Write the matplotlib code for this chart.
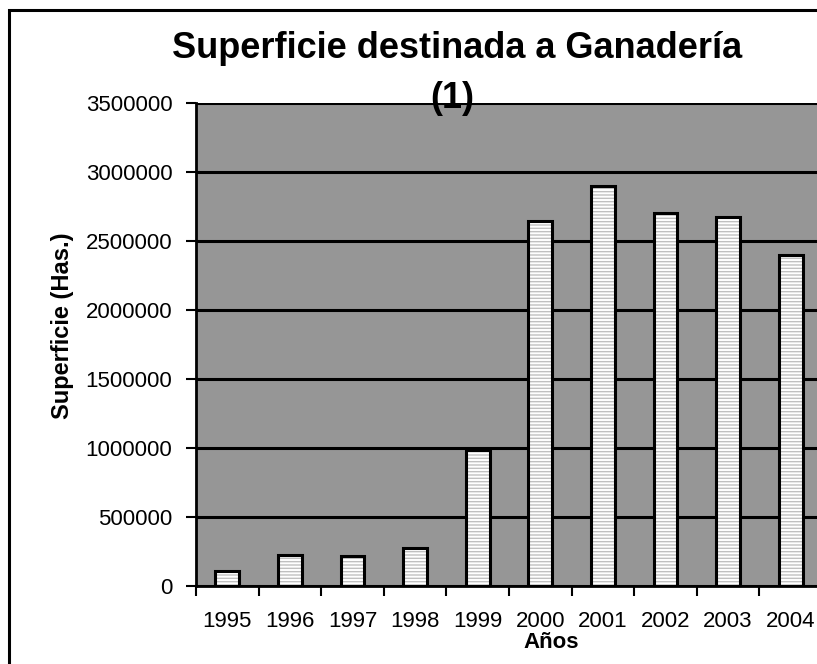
import matplotlib
matplotlib.use("Agg")
import matplotlib.pyplot as plt
from matplotlib import font_manager as fm
from matplotlib.patches import Rectangle
import numpy as np

years = ["1995", "1996", "1997", "1998", "1999", "2000", "2001", "2002", "2003", "2004"]
superficie = [109000, 223000, 216000, 278000, 988000, 2643000, 2902000, 2706000, 2677000, 2398000]
yticks = [0, 500000, 1000000, 1500000, 2000000, 2500000, 3000000, 3500000]

names = {f.name for f in fm.fontManager.ttflist}
fam = "Liberation Sans Narrow" if "Liberation Sans Narrow" in names else "Liberation Sans"
plt.rcParams['font.family'] = [fam, 'DejaVu Sans']
plt.rcParams['hatch.linewidth'] = 1.0

W, H = 817, 664
fig = plt.figure(figsize=(W/100, H/100), dpi=100)
fig.patch.set_facecolor('white')

# outer frame
fig.patches.append(Rectangle((9/W, -0.1), 1.2, (H - 10)/H + 0.1, transform=fig.transFigure,
                             fill=False, edgecolor='black', linewidth=2.2))

left, bottom, top = 196, 586, 103
ax = fig.add_axes([left/W, (H-bottom)/H, 626/W, (bottom-top)/H])
ax.set_facecolor('#969696')
x = np.arange(len(years))
ax.bar(x, superficie, width=0.38, color='white', edgecolor='#c0c0c0', hatch='-----', linewidth=0, zorder=3)
ax.bar(x, superficie, width=0.38, fill=False, edgecolor='black', linewidth=2.2, zorder=4)
ax.set_xlim(-0.5, len(years) - 0.5)
ax.set_ylim(0, 3500000)
ax.set_yticks(yticks)
ax.set_yticklabels([str(v) for v in yticks], fontsize=16)
ax.yaxis.grid(True, color='black', linewidth=2.2, zorder=1)
ax.set_axisbelow(True)
ax.set_xticks(np.arange(len(years) + 1) - 0.5)
ax.set_xticklabels([])
ax.set_xticks(x, minor=True)
ax.set_xticklabels(years, minor=True, fontsize=16)
ax.tick_params(axis='x', which='minor', length=0, pad=18)
ax.tick_params(axis='x', which='major', length=7, width=1.5, direction='out')
ax.tick_params(axis='y', length=7, width=1.5, direction='out', pad=10)
for s in ['top', 'right']:
    ax.spines[s].set_visible(False)
for s in ['left', 'bottom']:
    ax.spines[s].set_linewidth(2)

fig.text(457/W, 1 - 49/H, "Superficie destinada a Ganadería", ha='center', va='center',
         fontsize=26, fontweight='bold')
fig.text(452/W, 1 - 99/H, "(1)", ha='center', va='center', fontsize=26, fontweight='bold')
fig.text(551/W, 1 - 642/H, "Años", ha='center', va='center', fontsize=16, fontweight='bold')
fig.text(62/W, 1 - 326/H, "Superficie (Has.)", ha='center', va='center', rotation=90,
         fontsize=17, fontweight='bold')

fig.savefig("out.png", dpi=100)
